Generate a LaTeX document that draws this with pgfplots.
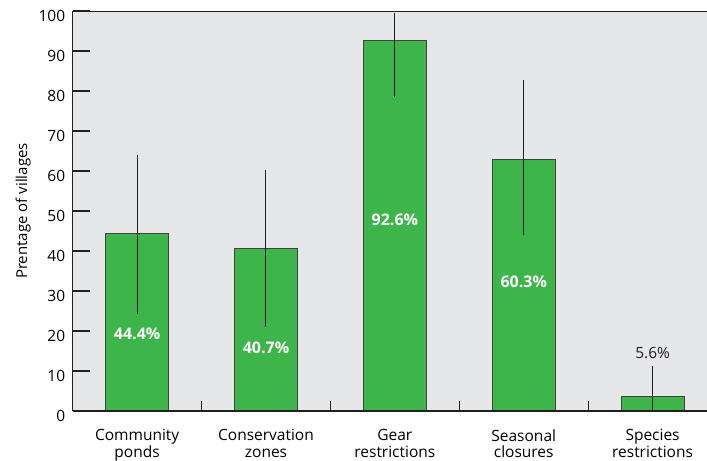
\documentclass[border=0pt]{standalone}
\usepackage{fontspec}
\setmainfont{Open Sans}
\usepackage{pgfplots}
\usepackage{pgfplotstable}
\pgfplotsset{compat=1.18}
\definecolor{bggray}{HTML}{E6E7E9}
\definecolor{bargreen}{HTML}{3DB54A}
\definecolor{axdark}{HTML}{231F20}
\pgfplotstableread{
x y ep em
0 44.3 19.8 20.1
1 40.7 19.5 19.8
2 92.6 6.8 14.2
3 62.9 19.85 18.9
4 3.6 7.65 3.6
}\datatable
\begin{document}
\begin{tikzpicture}
\begin{axis}[
  scale only axis,
  width=634bp, height=400bp,
  xmin=-0.5, xmax=4.42,
  ymin=0, ymax=100,
  axis line style={draw=none},
  axis background/.style={fill=bggray},
  font=\fontsize{15.5bp}{16.5bp}\selectfont,
  /pgf/number format/assume math mode=true,
  ytick={0,10,...,100},
  ytick pos=left,
  xtick pos=bottom,
  ytick style={draw=axdark, line width=1.2bp},
  major tick length=17bp,
  yticklabel style={yshift=-5bp, xshift=-4bp},
  tick align=inside,
  xtick={0,1,2,3,4},
  xticklabels={{Community\\ponds},{Conservation\\zones},{Gear\\restrictions},{Seasonal\\closures},{Species\\restrictions}},
  xticklabel style={align=center, yshift=-15bp, text depth=0pt, font=\fontsize{15.5bp}{16.5bp}\selectfont},
  xtick style={draw=none},
  minor xtick={0.5,1.5,2.5,3.5},
  minor x tick style={draw=axdark, line width=0.9bp},
  minor tick length=10bp,
  ylabel={Prentage of villages},
  ylabel style={font=\fontsize{15bp}{16bp}\selectfont, yshift=1bp},
  clip=false,
]
\addplot[ybar, bar width=63bp, bar shift=0pt, fill=bargreen, draw=axdark!85, line width=1bp,
  error bars/.cd, y dir=both, y explicit, error mark=none,
  error bar style={line width=1bp, draw=axdark}]
  table[x=x, y=y, y error plus=ep, y error minus=em] {\datatable};
\draw[axdark, line width=0.9bp] (rel axis cs:0,0) -- (rel axis cs:0,1) -- (rel axis cs:1,1);
\draw[axdark, line width=1.5bp] (rel axis cs:0,0) -- (rel axis cs:1,0);
\node[white, font=\bfseries\fontsize{16bp}{18bp}\selectfont] at (axis cs:0,19.3) {44.4\%};
\node[white, font=\bfseries\fontsize{16bp}{18bp}\selectfont] at (axis cs:1,15.8) {40.7\%};
\node[white, font=\bfseries\fontsize{16bp}{18bp}\selectfont] at (axis cs:2,47.8) {92.6\%};
\node[white, font=\bfseries\fontsize{16bp}{18bp}\selectfont] at (axis cs:3,32.3) {60.3\%};
\node[axdark, font=\fontsize{15.5bp}{17bp}\selectfont] at (axis cs:4,14.6) {5.6\%};
\coordinate (bl) at (rel axis cs:0,0);
\end{axis}
\pgfresetboundingbox
\path[use as bounding box] (bl) ++(-72.7bp,-50bp) rectangle ++(707bp,461bp);
\end{tikzpicture}
\end{document}
